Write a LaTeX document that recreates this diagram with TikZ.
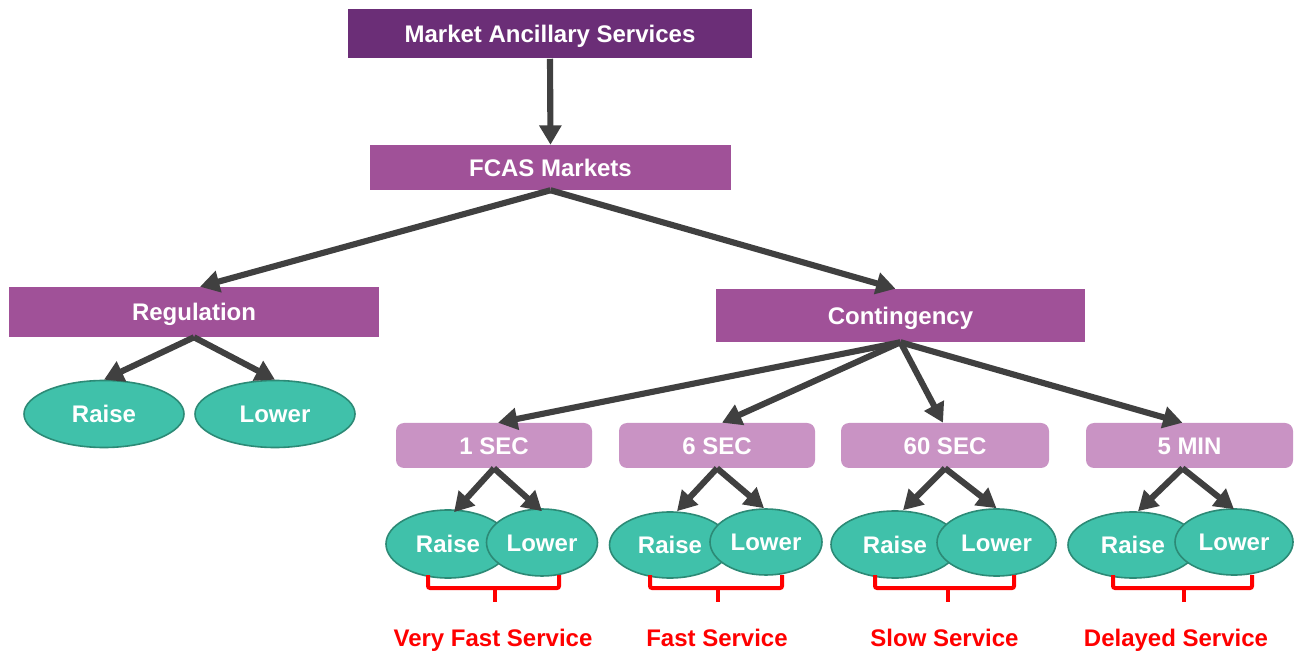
\documentclass[tikz,border=0pt]{standalone}
\usepackage{fontspec}
\setmainfont{Liberation Sans}
\usetikzlibrary{arrows.meta,shapes.geometric,calc}
\definecolor{dkpurple}{RGB}{107,46,119}
\definecolor{mdpurple}{RGB}{160,81,152}
\definecolor{ltpurple}{RGB}{201,147,196}
\definecolor{tealfill}{RGB}{64,193,170}
\definecolor{tealline}{RGB}{44,138,118}
\definecolor{arrowgray}{RGB}{64,64,64}
\definecolor{labelred}{RGB}{255,0,0}
\begin{document}
\begin{tikzpicture}[x=0.75pt,y=-0.75pt,
  txt/.style={font=\fontsize{18}{21}\selectfont\bfseries, text=white, text height=12.9pt, text depth=0pt},
  rbox/.style 2 args={txt, inner sep=0pt, minimum width=#1*0.75pt, minimum height=#2*0.75pt},
  topbox/.style={fill=dkpurple},
  midbox/.style={fill=mdpurple},
  secbox/.style={fill=ltpurple, rounded corners=6pt},
  oval/.style 2 args={ellipse, txt, draw=tealline, line width=1.2pt, fill=tealfill, inner sep=0pt, minimum width=#1*0.75pt, minimum height=#2*0.75pt},
  conn/.style={draw=arrowgray, line width=4.6pt, -{Triangle[length=14.5pt,width=16pt]}},
  brace/.style={draw=labelred, line width=3pt, rounded corners=1.5pt},
  svc/.style={txt, text=labelred}
]
\useasboundingbox (0,0) rectangle (1299,655);

% boxes
\node[rbox={404}{49}, topbox] (mas) at (550,34) {Market Ancillary Services};
\node[rbox={361}{45}, midbox] (fcas) at (550.5,167.5) {FCAS Markets};
\node[rbox={370}{50}, midbox] (reg) at (194,312) {Regulation};
\node[rbox={369}{53}, midbox] (cont) at (900.5,315.5) {Contingency};
\node[rbox={196}{45}, secbox] (s1) at (494,445.5) {1 SEC};
\node[rbox={196}{45}, secbox] (s6) at (717,445.5) {6 SEC};
\node[rbox={208}{45}, secbox] (s60) at (945,445.5) {60 SEC};
\node[rbox={207}{45}, secbox] (m5) at (1189.5,445.5) {5 MIN};

% ellipses
\node[oval={160}{67}] (rr) at (104,414) {Raise};
\node[oval={160}{67}] (rl) at (275,414) {Lower};
\node[oval={124}{68}] (r1) at (448,544) {Raise};
\node[oval={111}{67}] (l1) at (542,542.5) {Lower};
\node[oval={121}{66}] (r6) at (670,545) {Raise};
\node[oval={112}{66}] (l6) at (766,542) {Lower};
\node[oval={128}{67}] (r60) at (895,544.5) {Raise};
\node[oval={119}{67}] (l60) at (996.5,542.5) {Lower};
\node[oval={130}{66}] (r5) at (1133,545) {Raise};
\node[oval={118}{66}] (l5) at (1234,542) {Lower};

% connectors
\draw[conn] (mas.south) -- (fcas.north);
\draw[conn] (fcas.south) -- ($(reg.north)+(6,0)$);
\draw[conn] (fcas.south) -- ($(cont.north)+(-5,0)$);
\draw[conn] (reg.south) -- (rr.north);
\draw[conn] (reg.south) -- (rl.north);
\draw[conn] (cont.south) -- ($(s1.north)+(4,0)$);
\draw[conn] (cont.south) -- ($(s6.north)+(5,0)$);
\draw[conn] (cont.south) -- ($(s60.north)+(-2,0)$);
\draw[conn] (cont.south) -- ($(m5.north)+(-7,0)$);
\draw[conn] (s1.south) -- ($(r1.north)+(6,3)$);
\draw[conn] (s1.south) -- ($(l1.north)+(0,3)$);
\draw[conn] (s6.south) -- ($(r6.north)+(7,0)$);
\draw[conn] (s6.south) -- ($(l6.north)+(-2,0)$);
\draw[conn] (s60.south) -- ($(r60.north)+(8,0)$);
\draw[conn] (s60.south) -- (l60.north);
\draw[conn] ($(m5.south)+(-7,0)$) -- ($(r5.north)+(5,0)$);
\draw[conn] ($(m5.south)+(-7,0)$) -- ($(l5.north)+(0,1)$);

% braces
\draw[brace] (428,575) -- (428,588) -- (559,588) -- (559,575);
\draw[brace] (495,588) -- (495,602);
\draw[brace] (650,575) -- (650,588) -- (782,588) -- (782,575);
\draw[brace] (718,588) -- (718,602);
\draw[brace] (875,575) -- (875,588) -- (1014,588) -- (1014,575);
\draw[brace] (948,588) -- (948,602);
\draw[brace] (1113,575) -- (1113,588) -- (1252,588) -- (1252,575);
\draw[brace] (1184,588) -- (1184,602);

% labels
\node[svc] (lab1) at (493,638) {Very Fast Service};
\node[svc] (lab6) at (717,638) {Fast Service};
\node[svc] (lab60) at (944.5,638) {Slow Service};
\node[svc] (lab5) at (1176,638) {Delayed Service};
\end{tikzpicture}
\end{document}
